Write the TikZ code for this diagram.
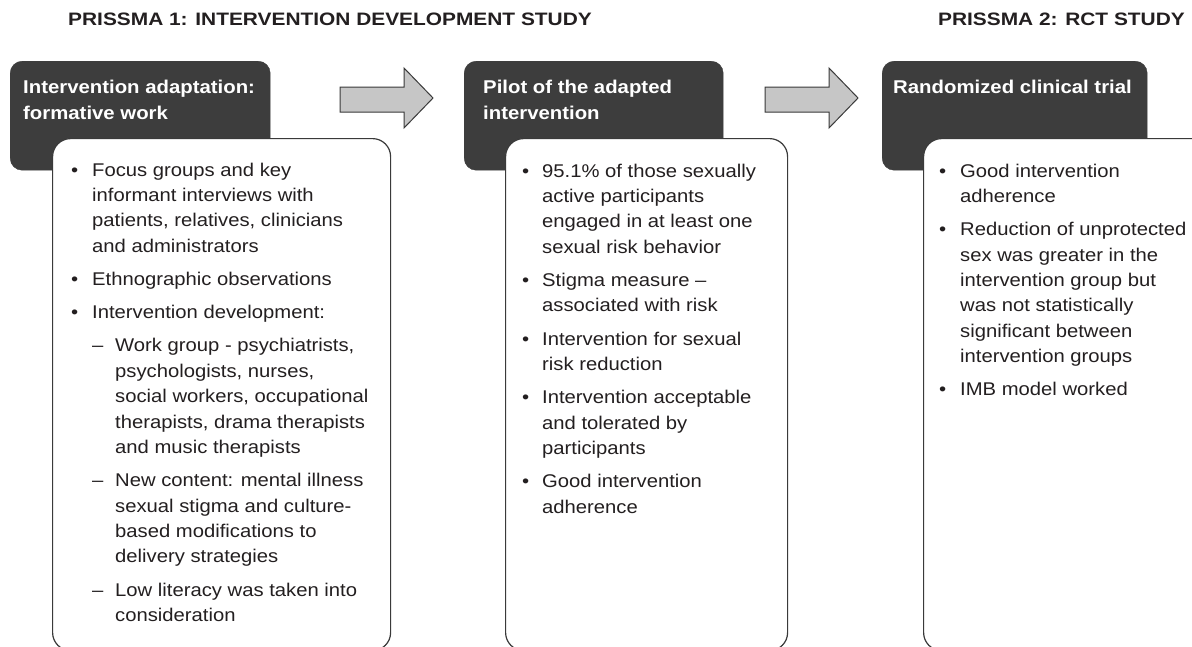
\documentclass[tikz,border=0pt]{standalone}
\usepackage{fontspec}
\setmainfont{Liberation Sans}[FakeStretch=1.1]
\newfontfamily\widesans{Liberation Sans}[FakeStretch=1.16]

\definecolor{headfill}{HTML}{3D3D3D}
\definecolor{boxline}{HTML}{3A3A3A}
\definecolor{arrowfill}{HTML}{C6C6C6}
\definecolor{inktext}{HTML}{231F20}

% list helpers: bullet item, bullet continuation, dash item, dash continuation
\newcommand\bitem[1]{\textbullet & \multicolumn{2}{@{}l@{}}{#1}}
\newcommand\bcont[1]{& \multicolumn{2}{@{}l@{}}{#1}}
\newcommand\ditem[1]{& \textendash & #1}
\newcommand\dcont[1]{& & #1}
\newcommand\itemgap{\\[7.8pt]}

\tikzset{
  headbox/.style={draw=headfill, fill=headfill, rounded corners=12pt,
    inner sep=0pt, anchor=north west},
  listbox/.style={draw=boxline, fill=white, line width=1.2pt,
    rounded corners=18pt, inner sep=0pt, anchor=north west},
  headtext/.style={text=white, inner sep=0pt, anchor=base west,
    font=\fontsize{18.5}{26}\selectfont\bfseries},
  listtext/.style={text=inktext, inner sep=0pt, anchor=base west,
    font=\fontsize{18.4}{25.4}\selectfont},
  phasetitle/.style={text=inktext, inner sep=0pt,
    font=\widesans\fontsize{18}{21}\selectfont\bfseries},
  blockarrow/.style={draw=boxline, fill=arrowfill, line width=1pt, line join=miter},
}

\begin{document}
\begin{tikzpicture}[x=1pt, y=-1pt]
\useasboundingbox (0,0) rectangle (1192,646);
\clip (0,0) rectangle (1192,646);
\fill[white] (0,0) rectangle (1192,646);

% phase titles
\node[phasetitle, anchor=base west] (p1) at (68,25) {PRISSMA 1: INTERVENTION DEVELOPMENT STUDY};
\node[phasetitle, anchor=base east] (p2) at (1185,25) {PRISSMA 2: RCT STUDY};

% stage 1: formative work
\node[headbox, minimum width=260pt, minimum height=109pt] (h1) at (10,61) {};
\node[headtext] (h1t) at (23,93) {\begin{tabular}[t]{@{}l@{}}Intervention adaptation:\\ formative work\end{tabular}};
\node[listbox, minimum width=338pt, minimum height=512pt] (b1) at (52,138) {};
\node[listtext] (b1t) at (71,176) {\begin{tabular}[t]{@{}p{21pt}@{}p{23pt}@{}l@{}}
\bitem{Focus groups and key}\\
\bcont{informant interviews with}\\
\bcont{patients, relatives, clinicians}\\
\bcont{and administrators}\itemgap
\bitem{Ethnographic observations}\itemgap
\bitem{Intervention development:}\itemgap
\ditem{Work group - psychiatrists,}\\
\dcont{psychologists, nurses,}\\
\dcont{social workers, occupational}\\
\dcont{therapists, drama therapists}\\
\dcont{and music therapists}\itemgap
\ditem{New content: mental illness}\\
\dcont{sexual stigma and culture-}\\
\dcont{based modifications to}\\
\dcont{delivery strategies}\itemgap
\ditem{Low literacy was taken into}\\
\dcont{consideration}
\end{tabular}};

% stage 2: pilot
\node[headbox, minimum width=259pt, minimum height=109pt] (h2) at (464,61) {};
\node[headtext] (h2t) at (483,93) {\begin{tabular}[t]{@{}l@{}}Pilot of the adapted\\ intervention\end{tabular}};
\node[listbox, minimum width=282pt, minimum height=512pt] (b2) at (505,138) {};
\node[listtext] (b2t) at (522,177) {\begin{tabular}[t]{@{}p{20pt}@{}p{23pt}@{}l@{}}
\bitem{95.1\% of those sexually}\\
\bcont{active participants}\\
\bcont{engaged in at least one}\\
\bcont{sexual risk behavior}\itemgap
\bitem{Stigma measure \textendash}\\
\bcont{associated with risk}\itemgap
\bitem{Intervention for sexual}\\
\bcont{risk reduction}\itemgap
\bitem{Intervention acceptable}\\
\bcont{and tolerated by}\\
\bcont{participants}\itemgap
\bitem{Good intervention}\\
\bcont{adherence}
\end{tabular}};

% stage 3: randomized trial
\node[headbox, minimum width=265pt, minimum height=109pt] (h3) at (882,61) {};
\node[headtext] (h3t) at (893,93) {\begin{tabular}[t]{@{}l@{}}Randomized clinical trial\end{tabular}};
\node[listbox, minimum width=290pt, minimum height=512pt] (b3) at (923,138) {};
\node[listtext] (b3t) at (939,177) {\begin{tabular}[t]{@{}p{21pt}@{}p{23pt}@{}l@{}}
\bitem{Good intervention}\\
\bcont{adherence}\itemgap
\bitem{Reduction of unprotected}\\
\bcont{sex was greater in the}\\
\bcont{intervention group but}\\
\bcont{was not statistically}\\
\bcont{significant between}\\
\bcont{intervention groups}\itemgap
\bitem{IMB model worked}
\end{tabular}};

% block arrows between the stages
\draw[blockarrow] (340,87) -- (404,87) -- (404,68) -- (433,98) -- (404,128) -- (404,112) -- (340,112) -- cycle;
\draw[blockarrow] (765,87) -- (829,87) -- (829,68) -- (858,98) -- (829,128) -- (829,112) -- (765,112) -- cycle;
\end{tikzpicture}
\end{document}
